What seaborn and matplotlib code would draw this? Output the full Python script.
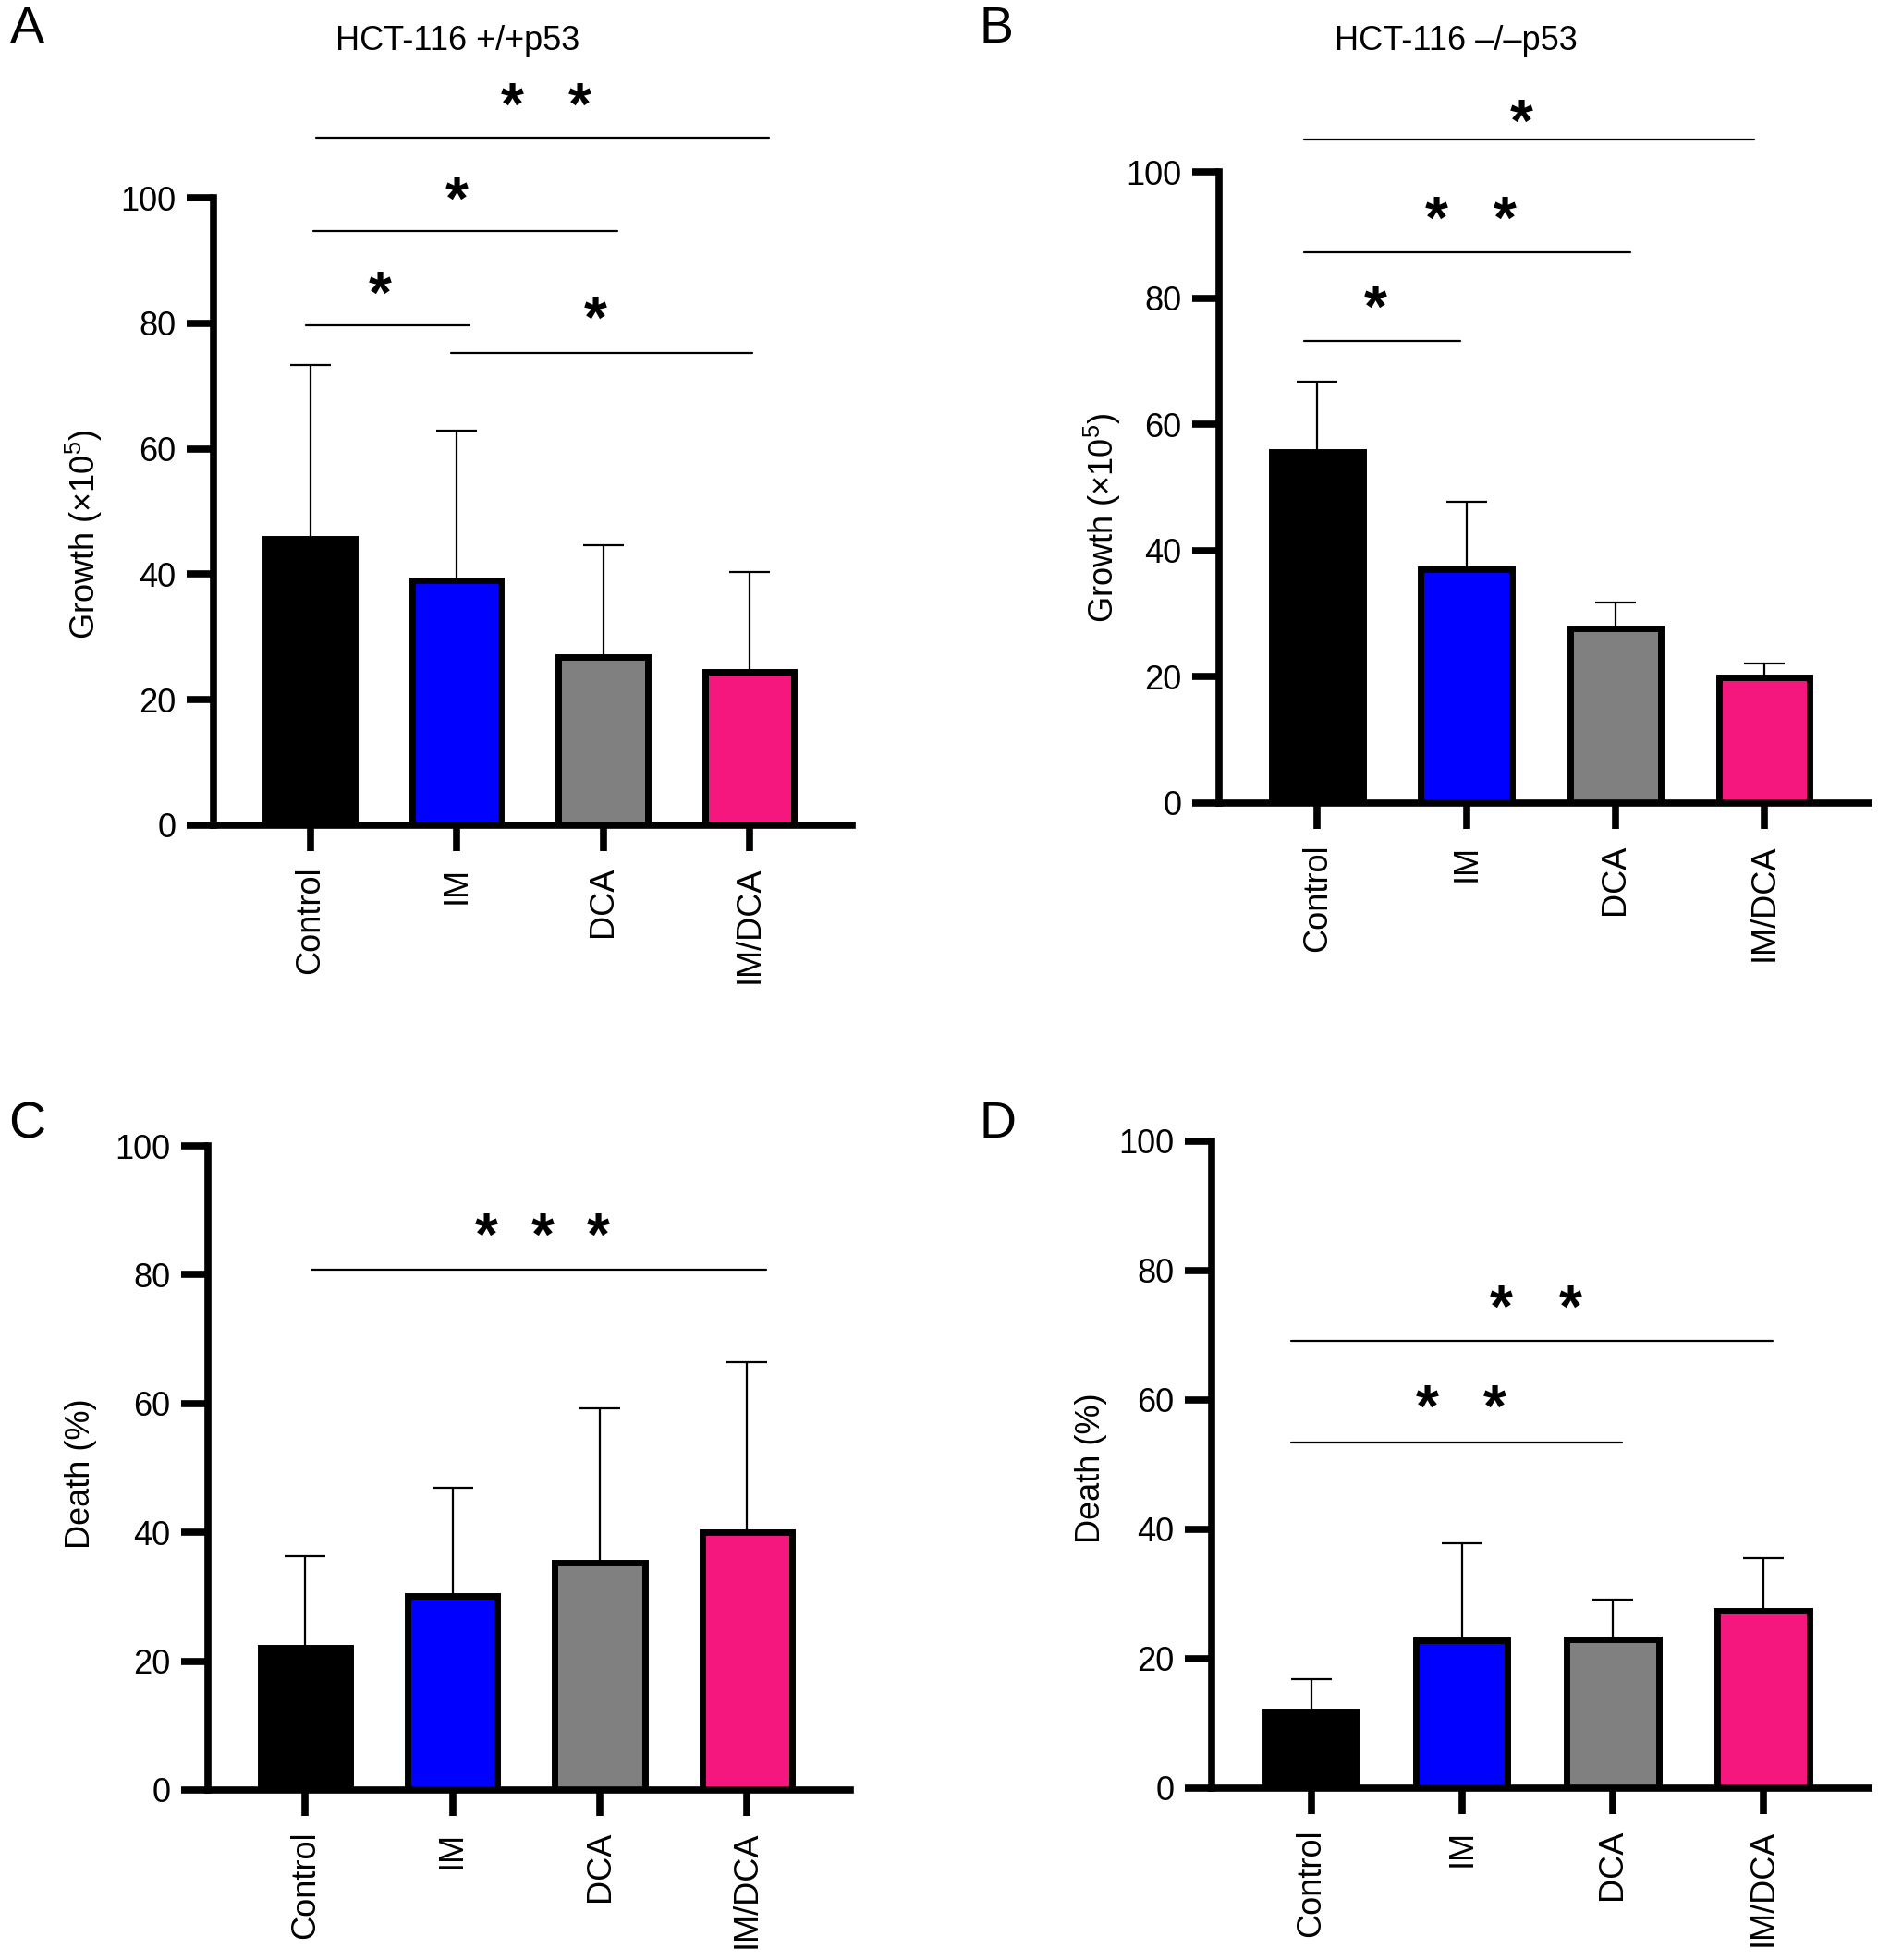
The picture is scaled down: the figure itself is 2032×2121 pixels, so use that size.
import numpy as np
import matplotlib
matplotlib.use('Agg')
import matplotlib.pyplot as plt
import seaborn as sns
import pandas as pd

sns.set_style('ticks', rc={'axes.edgecolor': 'black', 'text.color': 'black',
                           'axes.labelcolor': 'black', 'xtick.color': 'black',
                           'ytick.color': 'black'})
plt.rcParams['font.family'] = ['Liberation Sans', 'DejaVu Sans']
plt.rcParams['mathtext.fontset'] = 'custom'
plt.rcParams['mathtext.rm'] = 'Liberation Sans'

groups = ['Control', 'IM', 'DCA', 'IM/DCA']
colors = ['#000000', '#0000FF', '#808080', '#F5167E']

# mean and upper SD per panel
growth_wt = [45.7, 39.0, 26.8, 24.5]
growth_wt_sd = [27.7, 23.9, 17.8, 15.8]
growth_ko = [55.6, 37.1, 27.7, 19.9]
growth_ko_sd = [11.1, 10.6, 4.1, 2.2]
death_wt = [22.1, 30.2, 35.3, 40.0]
death_wt_sd = [14.2, 16.7, 24.0, 26.4]
death_ko = [11.8, 22.8, 23.0, 27.4]
death_ko_sd = [5.1, 15.0, 6.1, 8.2]

# significance brackets: (x start, x end, line y, star xs, star y)
sig_a = [(0.04, 3.13, 109.6, [1.38, 1.84], 116.0),
         (0.02, 2.10, 94.7, [1.0], 101.0),
         (-0.03, 1.09, 79.7, [0.48], 86.0),
         (0.96, 3.02, 75.3, [1.95], 82.0)]
sig_b = [(-0.09, 2.93, 105.1, [1.37], 109.2),
         (-0.09, 2.10, 87.2, [0.80, 1.26], 93.8),
         (-0.09, 0.96, 73.2, [0.39], 79.8)]
sig_c = [(0.04, 3.13, 80.8, [1.23, 1.61, 1.99], 87.4)]
sig_d = [(-0.13, 3.06, 69.1, [1.26, 1.72], 75.6),
         (-0.13, 2.06, 53.5, [0.77, 1.22], 60.1)]

W, H = 2032, 2121
fig = plt.figure(figsize=(W / 100, H / 100), dpi=100)


def make_axes(left, right, y0, y100, ymax):
    unit = (y0 - y100) / 100
    top = y0 - ymax * unit
    return fig.add_axes([left / W, (H - y0) / H, (right - left) / W, (y0 - top) / H])


def panel(ax, means, sds, sigs, ylabel, ymax, label_xy):
    df = pd.DataFrame({'group': groups, 'value': means})
    sns.barplot(data=df, x='group', y='value', hue='group', palette=colors,
                saturation=1, legend=False, errorbar=None, width=0.61,
                edgecolor='black', linewidth=5, ax=ax, zorder=2)
    ax.errorbar(np.arange(4), means, yerr=[np.zeros(4), sds], fmt='none',
                ecolor='black', elinewidth=1.6, capsize=16, capthick=1.6, zorder=1)
    for x1, x2, y, sx, sy in sigs:
        ax.plot([x1, x2], [y, y], color='black', lw=1.6, clip_on=False)
        for xs in sx:
            # asterisk glyph sits high in its box, nudge it down
            ax.annotate('*', (xs, sy), xytext=(0, -9), textcoords='offset points',
                        ha='center', va='center', fontsize=46,
                        fontweight='bold', annotation_clip=False)
    ax.set_xlim(-0.66, 3.7)
    ax.set_ylim(0, ymax)
    ax.set_yticks(range(0, 101, 20))
    ax.spines['left'].set_bounds(0, 100)
    for s in ['top', 'right']:
        ax.spines[s].set_visible(False)
    for s in ['left', 'bottom']:
        ax.spines[s].set_linewidth(5.5)
    ax.tick_params(axis='both', width=5.5, labelsize=26, direction='out')
    ax.tick_params(axis='y', length=21, pad=8)
    ax.tick_params(axis='x', length=20, pad=12, labelrotation=90)
    ax.set_xlabel('')
    ax.set_ylabel(ylabel, fontsize=26)
    ax.yaxis.set_label_coords(label_xy[0] / W, 1 - label_xy[1] / H,
                              transform=fig.transFigure)


ax_a = make_axes(231, 922, 893, 214, 125)
panel(ax_a, growth_wt, growth_wt_sd, sig_a, 'Growth (×10$^{5}$)', 125, (113, 578))
ax_b = make_axes(1319, 2022, 869, 186, 125)
panel(ax_b, growth_ko, growth_ko_sd, sig_b, 'Growth (×10$^{5}$)', 125, (1215, 560))
ax_c = make_axes(225, 920, 1937, 1240, 100)
panel(ax_c, death_wt, death_wt_sd, sig_c, 'Death (%)', 100, (105, 1595))
ax_d = make_axes(1311, 2022, 1935, 1235, 100)
panel(ax_d, death_ko, death_ko_sd, sig_d, 'Death (%)', 100, (1198, 1589))

fig.text(495 / W, 1 - 45 / H, 'HCT-116 +/+p53', ha='center', va='center', fontsize=26)
fig.text(1575 / W, 1 - 45 / H, 'HCT-116 –/–p53', ha='center', va='center', fontsize=26)
for letter, (x, y) in zip('ABCD', [(29, 32), (1078, 32), (29, 1217), (1079, 1217)]):
    fig.text(x / W, 1 - y / H, letter, ha='center', va='center', fontsize=40)

fig.savefig('out.png', dpi=100)
